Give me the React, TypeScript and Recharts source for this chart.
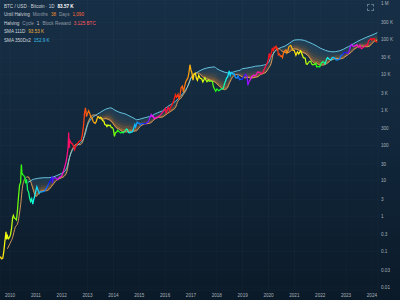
import React from "react";
import { ComposedChart, Line, Area, XAxis, YAxis, CartesianGrid } from "recharts";

// ---------- data ----------
const priceDates = [
  2010.54, 2010.57, 2010.6, 2010.64, 2010.68, 2010.72, 2010.76, 2010.8, 2010.845, 2010.87, 2010.9, 2010.94, 2010.98,
  2011.02, 2011.06, 2011.1, 2011.13, 2011.17, 2011.21, 2011.25, 2011.29, 2011.33, 2011.37, 2011.41, 2011.44, 2011.46,
  2011.49, 2011.53, 2011.57, 2011.6, 2011.64, 2011.68, 2011.72, 2011.76, 2011.8, 2011.84, 2011.88, 2011.92, 2011.96,
  2012.0, 2012.04, 2012.08, 2012.13, 2012.17, 2012.25, 2012.33, 2012.42, 2012.5, 2012.58, 2012.62, 2012.64, 2012.67,
  2012.75, 2012.83, 2012.92, 2013.0, 2013.08, 2013.17, 2013.22, 2013.25, 2013.27, 2013.29, 2013.31, 2013.36, 2013.42,
  2013.46, 2013.5, 2013.54, 2013.58, 2013.67, 2013.75, 2013.8, 2013.85, 2013.88, 2013.92, 2013.96, 2014.0, 2014.04,
  2014.08, 2014.12, 2014.17, 2014.21, 2014.25, 2014.29, 2014.33, 2014.38, 2014.42, 2014.46, 2014.5, 2014.54, 2014.58,
  2014.63, 2014.67, 2014.71, 2014.75, 2014.79, 2014.83, 2014.88, 2014.92, 2014.96, 2015.0, 2015.04, 2015.08, 2015.13,
  2015.17, 2015.21, 2015.25, 2015.29, 2015.33, 2015.38, 2015.42, 2015.46, 2015.5, 2015.54, 2015.58, 2015.63, 2015.67,
  2015.71, 2015.75, 2015.8, 2015.83, 2015.86, 2015.92, 2015.96, 2016.0, 2016.04, 2016.08, 2016.13, 2016.17, 2016.25,
  2016.33, 2016.38, 2016.46, 2016.5, 2016.54, 2016.58, 2016.67, 2016.75, 2016.83, 2016.92, 2016.98, 2017.01, 2017.04,
  2017.08, 2017.12, 2017.17, 2017.21, 2017.25, 2017.33, 2017.4, 2017.44, 2017.5, 2017.54, 2017.58, 2017.62, 2017.67,
  2017.71, 2017.75, 2017.79, 2017.83, 2017.88, 2017.92, 2017.96, 2018.0, 2018.04, 2018.08, 2018.12, 2018.17, 2018.21,
  2018.25, 2018.3, 2018.35, 2018.42, 2018.46, 2018.54, 2018.58, 2018.62, 2018.67, 2018.71, 2018.75, 2018.83, 2018.87,
  2018.92, 2018.96, 2019.0, 2019.08, 2019.17, 2019.25, 2019.29, 2019.38, 2019.42, 2019.48, 2019.52, 2019.56, 2019.63,
  2019.67, 2019.72, 2019.79, 2019.82, 2019.88, 2019.92, 2019.98, 2020.04, 2020.12, 2020.17, 2020.2, 2020.25, 2020.3,
  2020.35, 2020.42, 2020.5, 2020.58, 2020.67, 2020.71, 2020.79, 2020.83, 2020.88, 2020.92, 2020.97, 2021.0, 2021.03,
  2021.06, 2021.1, 2021.13, 2021.15, 2021.19, 2021.22, 2021.25, 2021.29, 2021.33, 2021.35, 2021.38, 2021.42, 2021.46,
  2021.5, 2021.54, 2021.58, 2021.63, 2021.67, 2021.71, 2021.75, 2021.79, 2021.86, 2021.9, 2021.94, 2022.0, 2022.06,
  2022.12, 2022.17, 2022.24, 2022.29, 2022.35, 2022.42, 2022.46, 2022.5, 2022.58, 2022.63, 2022.67, 2022.71, 2022.79,
  2022.83, 2022.86, 2022.92, 2022.98, 2023.04, 2023.1, 2023.15, 2023.19, 2023.25, 2023.29, 2023.35, 2023.42, 2023.47,
  2023.54, 2023.62, 2023.67, 2023.75, 2023.81, 2023.88, 2023.92, 2023.98, 2024.04, 2024.07, 2024.12, 2024.17, 2024.2,
  2024.25, 2024.3, 2024.38, 2024.42, 2024.5, 2024.54, 2024.59, 2024.67, 2024.71, 2024.79, 2024.83, 2024.87, 2024.92,
  2024.96, 2025.0, 2025.04, 2025.08, 2025.12, 2025.15, 2025.18, 2025.21,
];
const prices = [
  0.05, 0.08, 0.065, 0.07, 0.062, 0.065, 0.1, 0.19, 0.36, 0.22, 0.28, 0.23, 0.25,
  0.3, 0.45, 0.9, 1.05, 0.88, 0.85, 0.78, 1.5, 3.6, 7.5, 9, 29, 17,
  15, 14, 13, 8.5, 11, 5.5, 4.8, 3.2, 2.6, 3.1, 2.2, 3.0, 3.8,
  5.2, 6.8, 5.6, 4.4, 4.9, 4.9, 5.1, 6.4, 8.2, 11, 12.5, 8.5, 11.5,
  12.3, 10.8, 12.5, 13.5, 20, 34, 60, 93, 230, 85, 140, 118, 110,
  95, 75, 95, 105, 130, 140, 200, 400, 800, 1150, 650, 800, 950,
  830, 650, 620, 480, 440, 420, 460, 600, 640, 590, 620, 590, 500,
  480, 390, 380, 340, 380, 360, 370, 320, 320, 280, 180, 230, 240,
  270, 245, 235, 225, 237, 225, 245, 260, 290, 280, 230, 225, 240,
  235, 250, 330, 390, 330, 450, 420, 430, 380, 410, 420, 415, 420,
  450, 530, 740, 650, 670, 570, 610, 650, 740, 900, 990, 1100, 800,
  1000, 1180, 980, 1200, 1300, 1800, 2700, 2300, 2800, 2000, 2700, 4300, 4700,
  3200, 4400, 6000, 7000, 8000, 11000, 19000, 13500, 11000, 7000, 10500, 11000, 7800,
  6900, 9500, 8000, 7500, 6200, 8200, 7000, 6300, 7000, 6500, 6600, 6400, 4500,
  3800, 3400, 3900, 3500, 3900, 4100, 5300, 8000, 8600, 12800, 9500, 11500, 10200,
  10500, 8200, 8000, 9400, 7200, 7400, 7200, 8600, 10300, 8800, 5000, 6600, 7200,
  8800, 9600, 9200, 11800, 11500, 10500, 11500, 13800, 16500, 19000, 23000, 29000, 40000,
  31000, 38000, 47000, 57000, 46000, 59000, 56000, 63000, 52000, 58000, 36000, 38000, 33000,
  34000, 30000, 42000, 47000, 50000, 41000, 48000, 62000, 67000, 57000, 49000, 47000, 35000,
  44000, 38000, 47000, 39000, 30000, 29000, 20000, 19500, 23500, 24000, 20000, 19000, 19500,
  21000, 16500, 17000, 16500, 21000, 23000, 22000, 20000, 28000, 30000, 27000, 26000, 30500,
  30000, 26000, 26000, 27000, 34500, 37000, 42000, 43000, 41000, 39000, 47000, 62000, 71000,
  64000, 63000, 67000, 70000, 58000, 67000, 54000, 58000, 63000, 70000, 68000, 90000, 97000,
  104000, 94000, 102000, 104000, 96000, 86000, 84000, 83570,
];

const smaDates = [
  2010.9,
  2011.0, 2011.1, 2011.2, 2011.3, 2011.4, 2011.5, 2011.6, 2011.7, 2011.8, 2011.9,
  2012.0, 2012.1, 2012.2, 2012.3, 2012.4, 2012.5, 2012.6, 2012.7, 2012.8, 2012.9,
  2013.0, 2013.1, 2013.2, 2013.3, 2013.4, 2013.5, 2013.6, 2013.7, 2013.8, 2013.9,
  2014.0, 2014.1, 2014.2, 2014.3, 2014.4, 2014.5, 2014.6, 2014.7, 2014.8, 2014.9,
  2015.0, 2015.1, 2015.2, 2015.3, 2015.4, 2015.5, 2015.6, 2015.7, 2015.8, 2015.9,
  2016.0, 2016.1, 2016.2, 2016.3, 2016.4, 2016.5, 2016.6, 2016.7, 2016.8, 2016.9,
  2017.0, 2017.1, 2017.2, 2017.3, 2017.4, 2017.5, 2017.6, 2017.7, 2017.8, 2017.9,
  2018.0, 2018.1, 2018.2, 2018.3, 2018.4, 2018.5, 2018.6, 2018.7, 2018.8, 2018.9,
  2019.0, 2019.1, 2019.2, 2019.3, 2019.4, 2019.5, 2019.6, 2019.7, 2019.8, 2019.9,
  2020.0, 2020.1, 2020.2, 2020.3, 2020.4, 2020.5, 2020.6, 2020.7, 2020.8, 2020.9,
  2021.0, 2021.1, 2021.2, 2021.3, 2021.4, 2021.5, 2021.6, 2021.7, 2021.8, 2021.9,
  2022.0, 2022.1, 2022.2, 2022.3, 2022.4, 2022.5, 2022.6, 2022.7, 2022.8, 2022.9,
  2023.0, 2023.1, 2023.2, 2023.3, 2023.4, 2023.5, 2023.6, 2023.7, 2023.8, 2023.9,
  2024.0, 2024.1, 2024.2, 2024.3, 2024.4, 2024.5, 2024.6, 2024.7, 2024.8, 2024.9,
  2025.0, 2025.1, 2025.21,
];
const sma111 = [
  0.12,
  0.17, 0.25, 0.48, 0.64, 1.8, 8, 12, 13, 9.5, 5.5,
  3.6, 4.2, 5.0, 5.3, 5.2, 5.6, 6.8, 8.5, 10.3, 11.3,
  12.2, 13.5, 18, 45, 75, 100, 110, 104, 120, 230,
  415, 600, 720, 720, 640, 560, 550, 570, 540, 490,
  400, 320, 290, 260, 240, 240, 250, 255, 252, 260,
  320, 370, 400, 410, 420, 470, 550, 600, 620, 630,
  710, 800, 900, 1000, 1170, 1800, 2100, 2700, 3500, 5300,
  8200, 10200, 11100, 11000, 9400, 8100, 7600, 7200, 6700, 6300,
  5500, 4700, 4000, 3750, 4100, 6000, 8300, 9800, 10000, 9400,
  8400, 8100, 8400, 8000, 8100, 8400, 8800, 10000, 10700, 11600,
  15000, 20500, 42000, 50000, 54000, 47000, 43000, 41000, 43000, 49000,
  53000, 52000, 47000, 43000, 40000, 36000, 29000, 23000, 20500, 20000,
  18500, 18500, 19500, 21500, 25000, 27000, 28500, 28000, 28000, 29500,
  33500, 37500, 43000, 51000, 57000, 63000, 64000, 62000, 61000, 63000,
  75000, 87000, 93530,
];
const sma350x2 = [
  null,
  null, null, null, null, null, null, null, 9, 10, 11,
  11.4, 11.8, 12, 12.2, 12.2, 12.2, 12.5, 13, 14, 15,
  16.3, 18, 24, 45, 70, 88, 100, 115, 135, 200,
  370, 510, 615, 700, 780, 860, 960, 1050, 1110, 1150,
  1050, 950, 880, 830, 796, 752, 688, 632, 580, 530,
  543, 573, 600, 625, 657, 698, 767, 830, 886, 948,
  1100, 1250, 1400, 1550, 1750, 2050, 2450, 3000, 3800, 5000,
  7800, 9500, 11000, 12300, 13500, 14500, 15200, 15800, 16200, 16500,
  14770, 13370, 12480, 11700, 11230, 11070, 11600, 12180, 12820, 13300,
  14770, 15000, 15500, 16000, 16500, 17300, 17500, 17800, 18500, 19400,
  21700, 32000, 40000, 50000, 54500, 58800, 62000, 68000, 76000, 86000,
  94300, 96000, 96500, 95000, 92000, 85300, 80000, 74000, 68000, 62000,
  55950, 52000, 48500, 46000, 44600, 43950, 44500, 46000, 48500, 52000,
  57280, 62000, 68000, 75000, 83000, 91000, 98000, 106000, 114000, 122000,
  130000, 140000, 152900,
];

const xTicks = [2011, 2012, 2013, 2014, 2015, 2016, 2017, 2018, 2019, 2020, 2021, 2022, 2023, 2024, 2025];
const xTickLabels = ["2010", "2011", "2012", "2013", "2014", "2015", "2016", "2017", "2018", "2019", "2020", "2021", "2022", "2023", "2024"];
const yTickValues = [1000000, 300000, 100000, 30000, 10000, 3000, 1000, 300, 100, 30, 10, 3, 1, 0.3, 0.1, 0.03, 0.01];
const yTickLabels = ["1 M", "300 K", "100 K", "30 K", "10 K", "3 K", "1 K", "300", "100", "30", "10", "3", "1", "0.3", "0.1", "0.03", "0.01"];
const halvings = [2009.0, 2012.91, 2016.53, 2020.36, 2024.3, 2028.3];

// ---------- derived tables ----------
const lg = (v: number) => Math.log10(v);
const priceTable = priceDates.map((t, i) => ({ t, p: lg(prices[i]) }));
const sma111Table = smaDates.map((t, i) => ({ t, v: lg(sma111[i]) }));
const sma350Table = smaDates
  .map((t, i) => ({ t, raw: sma350x2[i] }))
  .filter((d) => d.raw != null)
  .map((d) => ({ t: d.t, v: lg(d.raw as number) }));

const N_BANDS = 6;
const bandColors = [
  "rgba(225,140,55,0.55)",
  "rgba(185,130,75,0.42)",
  "rgba(140,122,95,0.34)",
  "rgba(100,116,115,0.30)",
  "rgba(78,114,132,0.28)",
  "rgba(62,112,142,0.28)",
];
const bandTable = smaDates
  .map((t, i) => ({ t, a: sma111[i], b: sma350x2[i] }))
  .filter((d) => d.b != null)
  .map((d) => {
    const lo = lg(d.a);
    const hi = lg(d.b as number);
    const row: any = { t: d.t };
    for (let k = 0; k < N_BANDS; k++) {
      row["b" + k] = [lo + ((hi - lo) * k) / N_BANDS, lo + ((hi - lo) * (k + 1)) / N_BANDS];
    }
    return row;
  });

const yTicks = yTickValues.map(lg);
const yLabel = (v: number) => {
  let best = 0;
  yTicks.forEach((t, i) => {
    if (Math.abs(t - v) < Math.abs(yTicks[best] - v)) best = i;
  });
  return yTickLabels[best];
};
const xLabel = (v: number) => {
  const i = xTicks.indexOf(Math.round(v));
  return i >= 0 ? xTickLabels[i] : "";
};

// rainbow keyed to the position inside each halving cycle (styling only)
const hueKeys: [number, number][] = [
  [0, 300], [0.12, 345], [0.25, 370], [0.4, 405], [0.55, 440], [0.65, 480], [0.75, 540], [0.88, 580], [1, 660],
];
function cycleHue(t: number) {
  let i = 0;
  while (i < halvings.length - 2 && t >= halvings[i + 1]) i++;
  const p = Math.min(1, Math.max(0, (t - halvings[i]) / (halvings[i + 1] - halvings[i])));
  let j = 0;
  while (j < hueKeys.length - 2 && p > hueKeys[j + 1][0]) j++;
  const [p0, h0] = hueKeys[j];
  const [p1, h1] = hueKeys[j + 1];
  const h = h0 + ((h1 - h0) * (p - p0)) / (p1 - p0);
  return h % 360;
}
const tFirst = priceDates[0];
const tLast = priceDates[priceDates.length - 1];
const STOPS = 300;
const rainbowStops = Array.from({ length: STOPS + 1 }, (_, i) => {
  const t = tFirst + ((tLast - tFirst) * i) / STOPS;
  return { off: i / STOPS, color: `hsl(${cycleHue(t).toFixed(1)}, 100%, 53%)` };
});

const FONT = "'Liberation Sans', Arial, sans-serif";
const tickFill = "#a7b1bb";

const XTick = (props: any) => {
  const { x, y, payload } = props;
  return (
    <text x={x} y={y} dy="0.71em" textAnchor="middle" fill={tickFill} fontSize={4.6} fontFamily={FONT}>
      {xLabel(payload.value)}
    </text>
  );
};
const YTick = (props: any) => {
  const { x, y, payload } = props;
  return (
    <text x={x} y={y} dy="0.355em" textAnchor="start" fill={tickFill} fontSize={4.6} fontFamily={FONT}>
      {yLabel(payload.value)}
    </text>
  );
};

const lbl: React.CSSProperties = { color: "#d0d6dc", marginRight: 3 };
const dim: React.CSSProperties = { color: "#8f9aa5", marginRight: 3 };

export default function App() {
  return (
    <div
      style={{
        position: "absolute",
        left: 0,
        top: 0,
        width: 400,
        height: 300,
        overflow: "hidden",
        background: "linear-gradient(180deg, #172f46 0%, #11263a 50%, #0b1a28 100%)",
      }}
    >
      <ComposedChart width={400} height={300} margin={{ top: 0, right: 0, bottom: 0, left: 0 }}>
        <defs>
          <linearGradient id="rainbow" x1="0" y1="0" x2="1" y2="0">
            {rainbowStops.map((s, i) => (
              <stop key={i} offset={s.off} stopColor={s.color} />
            ))}
          </linearGradient>
        </defs>
        <CartesianGrid stroke="#ffffff" strokeOpacity={0.045} strokeWidth={0.6} />
        <XAxis
          type="number"
          dataKey="t"
          domain={[2010.613, 2025.236]}
          allowDataOverflow
          ticks={xTicks}
          height={10}
          axisLine={false}
          tickLine={false}
          tickSize={0}
          tickMargin={4}
          tick={<XTick />}
          interval={0}
        />
        <YAxis
          type="number"
          orientation="right"
          domain={[-2.085, 6.107]}
          allowDataOverflow
          ticks={yTicks}
          width={22}
          axisLine={false}
          tickLine={false}
          tickSize={0}
          tickMargin={3}
          tick={<YTick />}
          interval={0}
        />
        {bandColors.map((c, k) => (
          <Area
            key={k}
            data={bandTable}
            dataKey={"b" + k}
            type="monotone"
            stroke="none"
            fill={c}
            fillOpacity={1}
            isAnimationActive={false}
            dot={false}
            activeDot={false}
          />
        ))}
        <Line
          data={sma111Table}
          dataKey="v"
          type="monotone"
          stroke="#e9a55a"
          strokeWidth={0.9}
          dot={false}
          activeDot={false}
          isAnimationActive={false}
        />
        <Line
          data={sma350Table}
          dataKey="v"
          type="monotone"
          stroke="#6fd4ee"
          strokeWidth={0.9}
          dot={false}
          activeDot={false}
          isAnimationActive={false}
        />
        <Line
          data={priceTable}
          dataKey="p"
          type="linear"
          stroke="url(#rainbow)"
          strokeWidth={1.25}
          dot={false}
          activeDot={false}
          isAnimationActive={false}
        />
      </ComposedChart>

      <div
        style={{
          position: "absolute",
          left: 4,
          top: 2.5,
          fontFamily: FONT,
          fontSize: 4.6,
          lineHeight: "8.6px",
          whiteSpace: "nowrap",
        }}
      >
        <div>
          <span style={lbl}>BTC / USD · Bitcoin · 1D</span>
          <span style={{ color: "#ffffff", fontWeight: 700 }}>83.57 K</span>
        </div>
        <div>
          <span style={lbl}>Until Halving</span>
          <span style={dim}>Months</span>
          <span style={{ color: "#ee8a2e", marginRight: 3 }}>38</span>
          <span style={dim}>Days</span>
          <span style={{ color: "#ff6b3d" }}>1,090</span>
        </div>
        <div>
          <span style={lbl}>Halving</span>
          <span style={dim}>Cycle</span>
          <span style={{ color: "#d0d6dc", marginRight: 3 }}>1</span>
          <span style={dim}>Block Reward</span>
          <span style={{ color: "#ff5a5f" }}>3.125 BTC</span>
        </div>
        <div>
          <span style={lbl}>SMA 111D</span>
          <span style={{ color: "#f0b23a" }}>93.53 K</span>
        </div>
        <div>
          <span style={lbl}>SMA 350Dx2</span>
          <span style={{ color: "#3fbfe6" }}>152.9 K</span>
        </div>
      </div>
      <div
        style={{
          position: "absolute",
          left: 367,
          top: 4,
          width: 5,
          height: 5,
          border: "0.8px dashed rgba(170,182,194,0.55)",
        }}
      />
    </div>
  );
}
